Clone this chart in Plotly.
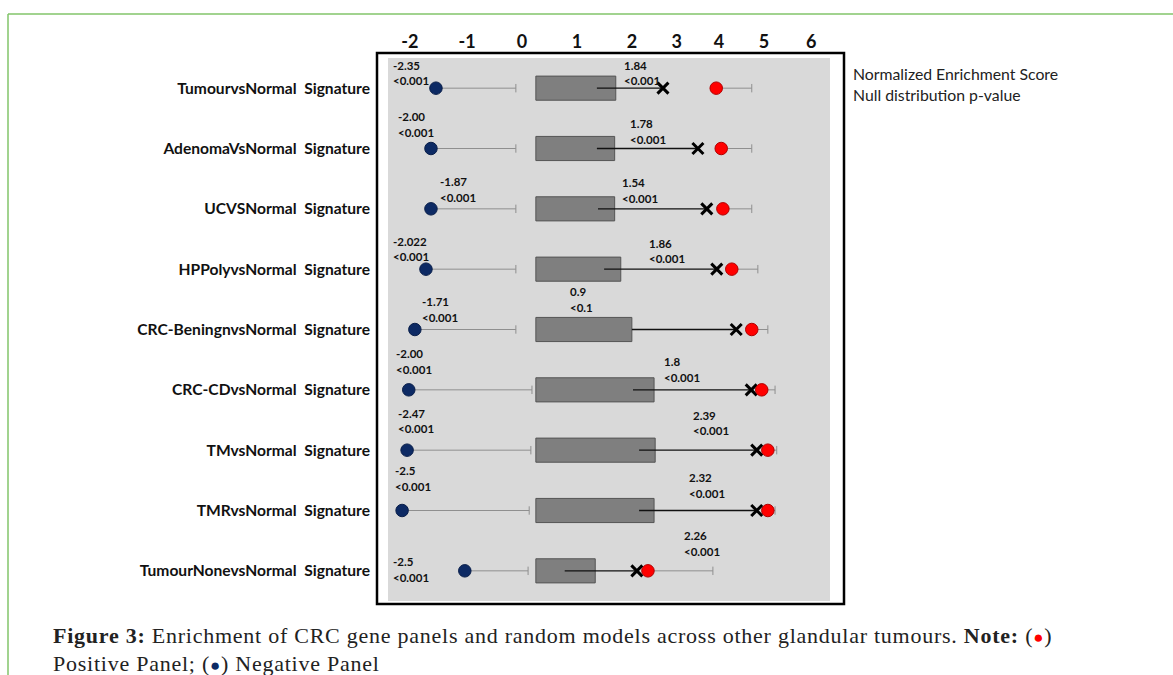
import plotly.graph_objects as go

# ---------------- data ----------------
categories = [
    "TumourvsNormal  Signature",
    "AdenomaVsNormal  Signature",
    "UCVSNormal  Signature",
    "HPPolyvsNormal  Signature",
    "CRC-BeningnvsNormal  Signature",
    "CRC-CDvsNormal  Signature",
    "TMvsNormal  Signature",
    "TMRvsNormal  Signature",
    "TumourNonevsNormal  Signature",
]
neg_nes_text = ["-2.35", "-2.00", "-1.87", "-2.022", "-1.71", "-2.00", "-2.47", "-2.5", "-2.5"]
neg_p_text = ["<0.001"] * 9
pos_nes_text = ["1.84", "1.78", "1.54", "1.86", "0.9", "1.8", "2.39", "2.32", "2.26"]
pos_p_text = ["<0.001", "<0.001", "<0.001", "<0.001", "<0.1", "<0.001", "<0.001", "<0.001", "<0.001"]

neg_panel = [-1.55, -1.64, -1.64, -1.73, -1.93, -2.04, -2.07, -2.16, -1.03]
neg_whisker_end = [-0.11, -0.11, -0.11, -0.11, -0.11, 0.18, 0.16, 0.13, 0.11]
box_low = [0.25] * 9
box_high = [1.69, 1.67, 1.67, 1.78, 1.98, 2.38, 2.40, 2.38, 1.32]
median_val = [1.35, 1.35, 1.37, 1.48, 1.98, 2.00, 2.11, 2.11, 0.77]
random_model = [2.54, 3.17, 3.33, 3.51, 3.86, 4.13, 4.23, 4.23, 2.07]
pos_panel = [3.50, 3.59, 3.62, 3.78, 4.14, 4.32, 4.43, 4.43, 2.27]
pos_whisker_end = [4.14, 4.14, 4.14, 4.25, 4.43, 4.56, 4.59, 4.56, 3.44]

tick_labels = ["-2", "-1", "0", "1", "2", "3", "4", "5", "6"]

# ---------------- layout constants ----------------
W, H = 1173, 675
PL, PR, PT, PB = 388, 830, 58, 601
tick_pos = [-2.02, -0.99, 0.0, 0.99, 1.98, 2.79, 3.55, 4.36, 5.21]
neg_lbl_x = [-2.36, -2.27, -1.51, -2.36, -1.84, -2.31, -2.27, -2.32, -2.36]
neg_lbl_dy = [-23, -32, -27, -28, -28, -36, -37, -40, -9]
pos_lbl_x = [1.80, 1.91, 1.77, 2.25, 0.83, 2.52, 3.05, 2.97, 2.88]
pos_lbl_dy = [-23, -25, -26, -26, -38, -28, -35, -33, -35]


def px_x(px):
    return (px - PL) / (PR - PL)


def px_y(py):
    return 1 - (py - PT) / (PB - PT)


def segs(a, b):
    xs, ys = [], []
    for c, s, e in zip(categories, a, b):
        xs += [s, e, None]
        ys += [c, c, None]
    return xs, ys


fig = go.Figure()

# negative whiskers
xs, ys = segs(neg_panel, neg_whisker_end)
fig.add_trace(go.Scatter(x=xs, y=ys, mode="lines", line=dict(color="#8f8f8f", width=1),
                         hoverinfo="skip", showlegend=False))
# positive whiskers
xs, ys = segs(pos_panel, pos_whisker_end)
fig.add_trace(go.Scatter(x=xs, y=ys, mode="lines", line=dict(color="#8f8f8f", width=1),
                         hoverinfo="skip", showlegend=False))
# whisker caps
fig.add_trace(go.Scatter(x=neg_whisker_end + pos_whisker_end, y=categories + categories,
                         mode="markers",
                         marker=dict(symbol="line-ns", size=6, line=dict(color="#8f8f8f", width=1)),
                         hoverinfo="skip", showlegend=False))
# boxes
fig.add_trace(go.Bar(y=categories, x=[h - l for h, l in zip(box_high, box_low)], base=box_low,
                     orientation="h", width=0.4,
                     marker=dict(color="#7f7f7f", line=dict(color="#555555", width=1)),
                     showlegend=False))
# connector line median -> random model
xs, ys = segs(median_val, random_model)
fig.add_trace(go.Scatter(x=xs, y=ys, mode="lines", line=dict(color="#111111", width=1.3),
                         hoverinfo="skip", showlegend=False))
# random model X
fig.add_trace(go.Scatter(x=random_model, y=categories, mode="markers",
                         marker=dict(symbol="x-thin", size=11, line=dict(color="#000000", width=3)),
                         showlegend=False))
# positive panel
fig.add_trace(go.Scatter(x=pos_panel, y=categories, mode="markers",
                         marker=dict(symbol="circle", size=12.5, color="#ff0000",
                                     line=dict(color="#b00000", width=1)),
                         showlegend=False))
# negative panel
fig.add_trace(go.Scatter(x=neg_panel, y=categories, mode="markers",
                         marker=dict(symbol="circle", size=12.5, color="#0d2a64",
                                     line=dict(color="#0a1f4a", width=1)),
                         showlegend=False))

annots = []
lbl_font = dict(family="Lato, sans-serif", size=11.5, color="#111111")
for i, c in enumerate(categories):
    for x0, dy, t1, t2 in ((neg_lbl_x[i], neg_lbl_dy[i], neg_nes_text[i], neg_p_text[i]),
                           (pos_lbl_x[i], pos_lbl_dy[i], pos_nes_text[i], pos_p_text[i])):
        annots.append(dict(x=x0, y=c, xref="x", yref="y", text="<b>%s</b>" % t1,
                           showarrow=False, xanchor="left", yanchor="middle",
                           yshift=-dy, font=lbl_font))
        annots.append(dict(x=x0, y=c, xref="x", yref="y",
                           text="<b>%s</b>" % t2.replace("<", "&lt;"),
                           showarrow=False, xanchor="left", yanchor="middle",
                           yshift=-(dy + 15.5), font=lbl_font))

# right legend text
leg_font = dict(family="Lato, sans-serif", size=15.8, color="#222222")
annots.append(dict(x=px_x(851), y=px_y(73), xref="paper", yref="paper",
                   text="Normalized Enrichment Score", showarrow=False,
                   xanchor="left", yanchor="middle", font=leg_font))
annots.append(dict(x=px_x(851), y=px_y(94), xref="paper", yref="paper",
                   text="Null distribution p-value", showarrow=False,
                   xanchor="left", yanchor="middle", font=leg_font))

# caption
cap_font = dict(family="Liberation Serif, serif", size=22, color="#222222")
ls = "letter-spacing:0.75px"
annots.append(dict(x=px_x(51), y=px_y(635), xref="paper", yref="paper",
                   text="<span style='%s'><b>Figure 3:</b> Enrichment of CRC gene panels and random models across "
                        "other glandular tumours. <b>Note:</b> (<span style='color:#ff0000;font-size:17px'>●</span>)</span>" % ls,
                   showarrow=False, xanchor="left", yanchor="middle", font=cap_font))
annots.append(dict(x=px_x(51), y=px_y(663), xref="paper", yref="paper",
                   text="<span style='%s'>Positive Panel; (<span style='color:#0d2a64;font-size:17px'>●</span>) Negative Panel</span>" % ls,
                   showarrow=False, xanchor="left", yanchor="middle", font=cap_font))

shapes = [
    # black frame
    dict(type="rect", xref="paper", yref="paper", x0=px_x(377), x1=px_x(844),
         y0=px_y(604), y1=px_y(53), line=dict(color="#000000", width=2.5), layer="above"),
    # green page border
    dict(type="line", xref="paper", yref="paper", x0=px_x(8), x1=px_x(1173),
         y0=px_y(14), y1=px_y(14), line=dict(color="#82c46a", width=1.5)),
    dict(type="line", xref="paper", yref="paper", x0=px_x(8), x1=px_x(8),
         y0=px_y(14), y1=px_y(675), line=dict(color="#82c46a", width=1.5)),
]

fig.update_layout(
    width=W, height=H,
    margin=dict(l=PL, r=W - PR, t=PT, b=H - PB),
    paper_bgcolor="#ffffff",
    plot_bgcolor="#d9d9d9",
    showlegend=False,
    annotations=annots,
    shapes=shapes,
    xaxis=dict(range=[-2.414, 5.55], side="top", tickmode="array", tickvals=tick_pos,
               ticktext=["<b>%s</b>" % t for t in tick_labels], showgrid=False, zeroline=False,
               showline=False, ticks="", ticklabelstandoff=5,
               tickfont=dict(family="Lato, sans-serif", size=18, color="#111111")),
    yaxis=dict(type="category", categoryorder="array", categoryarray=categories,
               range=[len(categories) - 0.5, -0.5], autorange=False,
               showgrid=False, zeroline=False, showline=False,
               ticks="", ticklabelstandoff=17,
               tickvals=categories, ticktext=["<b>%s</b>" % c for c in categories],
               tickfont=dict(family="Lato, sans-serif", size=15.6, color="#111111")),
)

fig.write_html("out.html", config={"displayModeBar": False},
               post_script="document.body.style.margin='0';document.body.style.padding='0';")
